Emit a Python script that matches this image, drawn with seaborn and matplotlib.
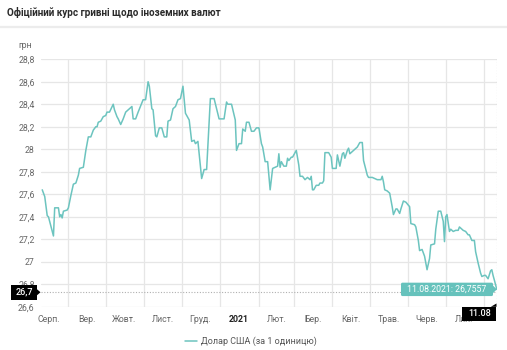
import numpy as np
import pandas as pd
import matplotlib
matplotlib.use("Agg")
import matplotlib.pyplot as plt
import matplotlib.dates as mdates
import matplotlib.transforms as mtransforms
from matplotlib.ticker import FixedLocator, FuncFormatter
from matplotlib.patches import Polygon, FancyBboxPatch, Rectangle
from matplotlib.lines import Line2D
import seaborn as sns

# ---------------- data ----------------
title = "Офіційний курс гривні щодо іноземних валют"
unit_label = "грн"
series_name = "Долар США (за 1 одиницю)"
start_date = "2020-08-11"

day_offsets = [0, 1, 2, 4, 5, 9, 10, 13, 14, 15, 16, 17, 20, 21, 23, 25, 27, 29, 30, 33,
               35, 37, 39, 41, 43, 44, 45, 47, 49, 51, 52, 54, 57, 58, 60, 61, 63, 65, 67, 70,
               72, 73, 75, 77, 81, 83, 85, 86, 88, 89, 91, 92, 94, 96, 98, 100, 101, 103, 105, 107,
               109, 111, 113, 115, 116, 118, 120, 122, 123, 125, 128, 130, 132, 135, 138, 140, 142, 146, 148, 149,
               152, 155, 156, 158, 160, 161, 163, 164, 166, 168, 170, 172, 174, 176, 177, 179, 181, 183, 185, 187,
               189, 190, 191, 192, 194, 196, 197, 198, 200, 201, 202, 204, 206, 207, 209, 211, 213, 215, 216, 217,
               218, 220, 222, 223, 225, 226, 227, 230, 232, 233, 236, 237, 238, 239, 241, 242, 243, 245, 246, 247,
               249, 251, 253, 255, 257, 258, 261, 262, 265, 267, 269, 272, 273, 274, 275, 277, 279, 281, 282, 284,
               285, 287, 288, 290, 292, 295, 296, 299, 300, 302, 303, 305, 307, 309, 311, 312, 315, 316, 318, 320,
               322, 323, 324, 325, 327, 328, 330, 332, 334, 335, 338, 340, 342, 343, 345, 347, 348, 350, 352, 353,
               355, 356, 358, 360, 361, 362, 363, 365]

usd_rate = [27.64, 27.61, 27.58, 27.41, 27.40, 27.23, 27.48, 27.48, 27.40, 27.42, 27.39, 27.45, 27.46, 27.48, 27.59, 27.69, 27.70, 27.77, 27.83, 27.84,
            27.99, 28.11, 28.11, 28.17, 28.20, 28.20, 28.24, 28.25, 28.29, 28.30, 28.33, 28.33, 28.40, 28.35, 28.29, 28.27, 28.22, 28.27, 28.33, 28.36,
            28.38, 28.27, 28.27, 28.33, 28.44, 28.44, 28.60, 28.56, 28.36, 28.35, 28.12, 28.11, 28.19, 28.19, 28.11, 28.11, 28.25, 28.26, 28.36, 28.38,
            28.44, 28.45, 28.56, 28.32, 28.30, 28.26, 28.07, 28.08, 28.05, 28.07, 27.74, 27.82, 27.82, 28.45, 28.45, 28.36, 28.27, 28.27, 28.42, 28.40,
            28.40, 28.26, 27.99, 28.05, 28.05, 28.18, 28.16, 28.24, 28.24, 28.16, 28.16, 28.19, 28.19, 28.05, 28.02, 27.89, 27.89, 27.64, 27.83, 27.84,
            27.85, 27.96, 27.84, 27.89, 27.85, 27.85, 27.92, 27.90, 27.93, 27.93, 27.95, 27.99, 27.86, 27.76, 27.76, 27.73, 27.75, 27.73, 27.76, 27.64,
            27.64, 27.68, 27.68, 27.70, 27.70, 27.72, 27.97, 27.97, 27.93, 27.83, 27.83, 27.95, 27.90, 27.85, 27.96, 27.97, 27.92, 27.99, 28.01, 27.96,
            27.98, 28.00, 28.02, 28.06, 28.06, 27.90, 27.77, 27.75, 27.75, 27.74, 27.73, 27.73, 27.76, 27.71, 27.64, 27.63, 27.61, 27.49, 27.42, 27.47,
            27.47, 27.43, 27.47, 27.54, 27.53, 27.49, 27.34, 27.33, 27.31, 27.19, 27.10, 27.11, 27.05, 26.93, 27.03, 27.15, 27.16, 27.29, 27.45, 27.45,
            27.36, 27.18, 27.40, 27.42, 27.27, 27.29, 27.27, 27.28, 27.28, 27.31, 27.28, 27.27, 27.24, 27.24, 27.19, 27.19, 27.09, 26.99, 26.90, 26.87,
            26.88, 26.88, 26.85, 26.92, 26.93, 26.88, 26.84, 26.7557]

month_labels = ["Серп.", "Вер.", "Жовт.", "Лист.", "Груд.", "2021",
                "Лют.", "Бер.", "Квіт.", "Трав.", "Черв.", "Лип."]
month_label_dates = ["2020-08-16", "2020-09-16", "2020-10-16", "2020-11-16", "2020-12-16", "2021-01-16",
                     "2021-02-15", "2021-03-16", "2021-04-16", "2021-05-16", "2021-06-16", "2021-07-16"]
ytick_values = [26.6, 26.8, 27.0, 27.2, 27.4, 27.6, 27.8, 28.0, 28.2, 28.4, 28.6, 28.8]

cursor_value = 26.73
cursor_label = "26,7"
date_label = "11.08"
tooltip_text = "11.08.2021: 26,7557"

# ---------------- style ----------------
LINE = "#6cc4bf"
TIP = "#66c2bc"
GRID = "#e6e6e6"
TICK = "#666666"
W, H = 507, 350

sns.set_theme(style="white")
plt.rcParams["font.family"] = ["Roboto", "DejaVu Sans"]

fig = plt.figure(figsize=(W / 100, H / 100), dpi=100)
fig.patch.set_facecolor("white")
ax = fig.add_axes([41 / W, 1 - 306.9 / H, (497 - 41) / W, (306.9 - 59.2) / H])

df = pd.DataFrame({
    "date": pd.to_datetime(start_date) + pd.to_timedelta(day_offsets, unit="D"),
    "rate": usd_rate,
})
sns.lineplot(data=df, x="date", y="rate", color=LINE, linewidth=1.1, ax=ax,
             label=series_name, zorder=3)

t0 = pd.to_datetime(start_date)
last_date = df["date"].iloc[-1]
ax.set_xlim(t0 - pd.Timedelta(days=1.0), last_date + pd.Timedelta(hours=4))
ax.set_ylim(ytick_values[0], ytick_values[-1])

ax.set_yticks(ytick_values)
ax.yaxis.set_major_formatter(FuncFormatter(
    lambda v, p: f"{v:.1f}".rstrip("0").rstrip(".").replace(".", ",")))
ax.yaxis.grid(True, color=GRID, linewidth=0.9)

ax.xaxis.set_major_locator(FixedLocator(mdates.date2num(pd.to_datetime(month_label_dates))))
ax.set_xticklabels(month_labels)
ax.xaxis.set_minor_locator(mdates.MonthLocator(bymonthday=1))
ax.xaxis.grid(True, which="minor", color=GRID, linewidth=0.9)
ax.xaxis.grid(False, which="major")
ax.tick_params(axis="both", which="both", length=0, labelsize=6.3, labelcolor=TICK)
ax.tick_params(axis="y", pad=4.5)
ax.tick_params(axis="x", pad=6)
for lab in ax.get_xticklabels():
    if lab.get_text() == "2021":
        lab.set_fontweight("bold")
        lab.set_color("#222222")
for s in ax.spines.values():
    s.set_visible(False)
ax.set_xlabel("")
ax.set_ylabel("")
ax.set_facecolor("white")

# crosshair lines
ax.axhline(cursor_value, color="#b0b0b0", linestyle=(0, (1, 1.5)), linewidth=0.8, zorder=2)
ax.axvline(last_date, color="#b0b0b0", linestyle=(0, (1, 1.5)), linewidth=0.8, zorder=2)

# legend
pix = mtransforms.Affine2D().scale(1 / W, -1 / H).translate(0, 1) + fig.transFigure
leg = ax.legend(loc="center", bbox_to_anchor=(251, 341.5), bbox_transform=pix,
                frameon=False, fontsize=6.5, handlelength=1.3, handletextpad=0.4,
                borderaxespad=0, borderpad=0)
for t in leg.get_texts():
    t.set_color("#555555")

# title, separator, unit
fig.text(7, 12.5, title, transform=pix, ha="left", va="center", fontsize=7.1,
         color="#2a2a2a", fontweight="bold")
fig.add_artist(Line2D([0, W], [26.5, 26.5], transform=pix, color="#ececec", linewidth=1.6))
fig.text(18, 45, unit_label, transform=pix, ha="left", va="center", fontsize=6.3, color=TICK)


def px_y(v):
    return H - ax.transData.transform((ax.get_xlim()[0], v))[1]


def px_x(d):
    return ax.transData.transform((mdates.date2num(d), ax.get_ylim()[0]))[0]


# y cursor label (black box)
cy = px_y(cursor_value)
fig.add_artist(Rectangle((11, cy - 7.5), 26, 15, transform=pix, facecolor="black",
                         edgecolor="none", zorder=10))
fig.add_artist(Polygon([(37, cy - 3), (40.5, cy), (37, cy + 3)], closed=True, transform=pix,
                       facecolor="black", edgecolor="none", zorder=10))
fig.text(24, cy, cursor_label, transform=pix, ha="center", va="center", fontsize=6.5,
         color="white", fontweight="medium", zorder=11)

# x cursor label (black box)
lx = px_x(last_date)
fig.add_artist(Rectangle((lx - 34.5, 306.7), 34, 14, transform=pix, facecolor="black",
                         edgecolor="none", zorder=10))
fig.add_artist(Polygon([(lx - 6, 306.8), (lx - 0.3, 303.5), (lx - 0.3, 306.8)], closed=True,
                       transform=pix, facecolor="black", edgecolor="none", zorder=10))
fig.text(lx - 17.5, 313.8, date_label, transform=pix, ha="center", va="center", fontsize=6.5,
         color="white", fontweight="medium", zorder=11)

# tooltip
ty = px_y(usd_rate[-1])
fig.add_artist(FancyBboxPatch((401, ty - 6.7), 92, 13.4, boxstyle="round,pad=0,rounding_size=1.5",
                              transform=pix, facecolor=TIP, edgecolor="none", zorder=10))
fig.add_artist(Polygon([(492.8, ty - 4), (lx, ty), (492.8, ty + 4)], closed=True, transform=pix,
                       facecolor=TIP, edgecolor="none", zorder=10))
fig.text(447, ty + 0.3, tooltip_text, transform=pix, ha="center", va="center", fontsize=6.3,
         color="white", zorder=11)

fig.savefig("out.png", dpi=100, facecolor="white")
